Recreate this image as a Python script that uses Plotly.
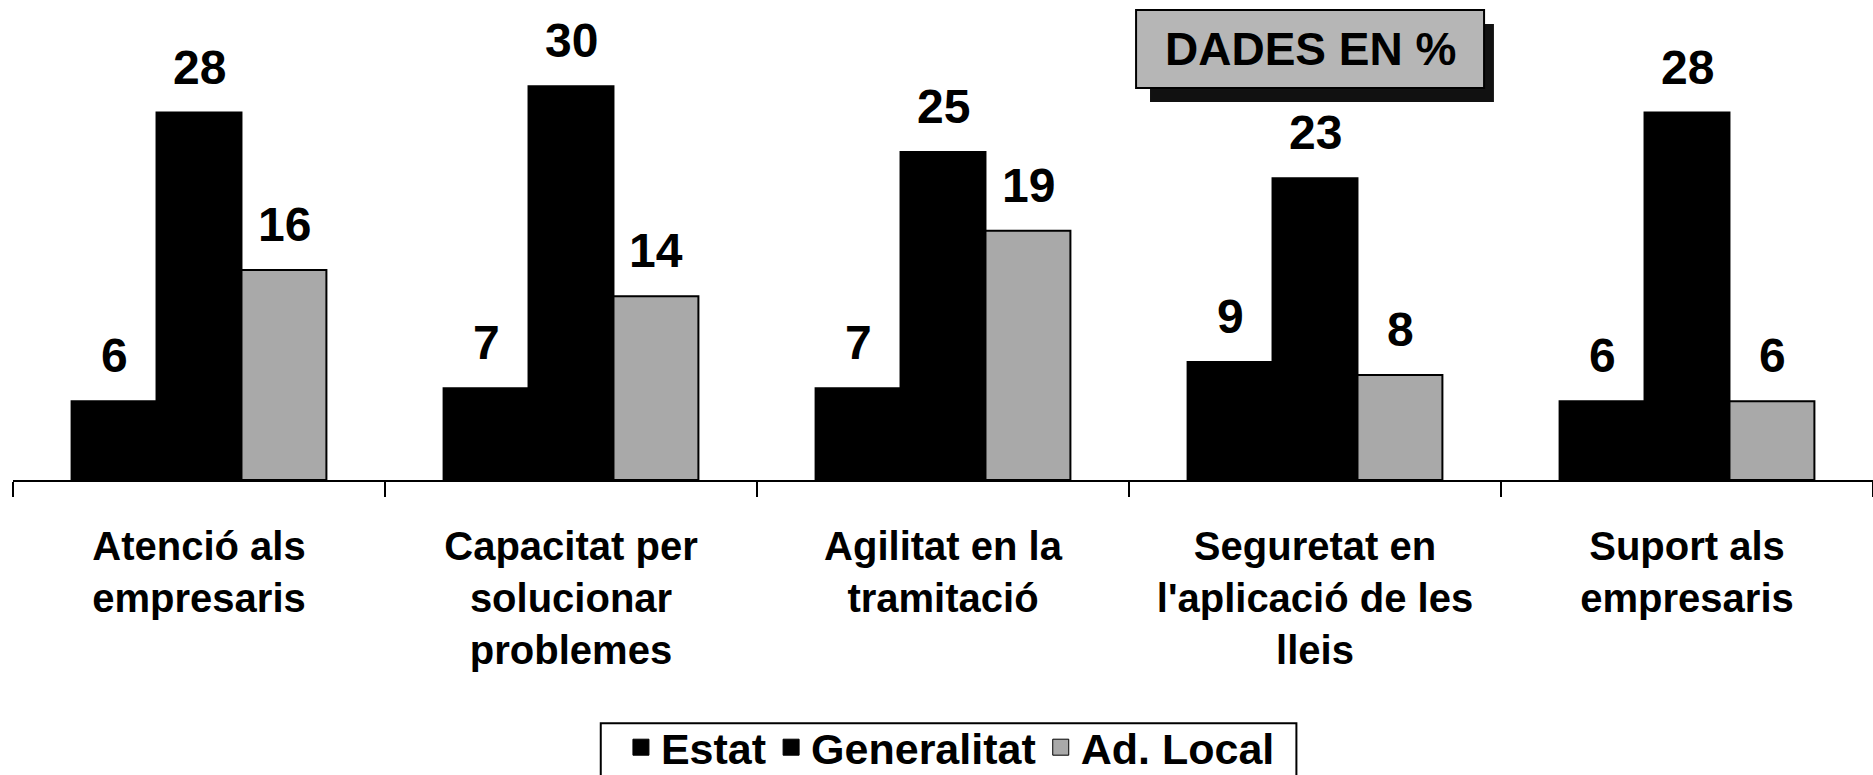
import plotly.graph_objects as go

categories = [
    "Atenció als<br>empresaris",
    "Capacitat per<br>solucionar<br>problemes",
    "Agilitat en la<br>tramitació",
    "Seguretat en<br>l'aplicació de les<br>lleis",
    "Suport als<br>empresaris",
]
series_names = ["Estat", "Generalitat", "Ad. Local"]
estat = [6, 7, 7, 9, 6]
generalitat = [28, 30, 25, 23, 28]
ad_local = [16, 14, 19, 8, 6]

colors = ["#000000", "#000000", "#a9a9a9"]
FONT = "Liberation Sans, Arial, sans-serif"

fig = go.Figure()

all_values = [estat, generalitat, ad_local]
for name, vals, col in zip(series_names, all_values, colors):
    fig.add_trace(go.Bar(
        x=categories, y=vals, name=name, showlegend=False,
        marker=dict(color=col, line=dict(color="black", width=2)),
    ))
    # legend entry with a bigger square swatch
    fig.add_trace(go.Scatter(
        x=[None], y=[None], name=name, mode="markers",
        marker=dict(symbol="square", size=20, color=col, line=dict(color="black", width=1)),
    ))

# value labels above each bar
bar_px = 85
for j, vals in enumerate(all_values):
    for cat, v in zip(categories, vals):
        fig.add_annotation(
            x=cat, y=v, text=str(v), showarrow=False,
            xref="x", yref="y", yanchor="bottom",
            xshift=(j - 1) * bar_px, yshift=17,
            font=dict(family=FONT, size=48, color="black", weight="bold"),
        )

# "DADES EN %" box with drop shadow
bx0, bx1, by0, by1 = 0.6038, 0.7909, 0.8253, 0.9895
fig.add_shape(type="rect", xref="paper", yref="paper",
              x0=0.6113, x1=0.7962, y0=0.7958, y1=0.96,
              fillcolor="#111111", line=dict(width=0), layer="above")
fig.add_shape(type="rect", xref="paper", yref="paper",
              x0=bx0, x1=bx1, y0=by0, y1=by1,
              fillcolor="#b6b6b6", line=dict(color="black", width=2), layer="above")
fig.add_annotation(
    xref="paper", yref="paper", x=(bx0 + bx1) / 2, y=(by0 + by1) / 2,
    xanchor="center", yanchor="middle",
    text="DADES EN %", showarrow=False,
    font=dict(family=FONT, size=46, color="black", weight="bold"),
)

# legend frame (runs off the bottom edge like the original)
fig.add_shape(type="rect", xref="paper", yref="paper",
              x0=0.316, x1=0.690, y0=-0.70, y1=-0.512,
              fillcolor="rgba(0,0,0,0)", line=dict(color="black", width=2))

fig.update_layout(
    width=1873, height=775,
    margin=dict(l=13, r=0, t=5, b=295, autoexpand=False),
    plot_bgcolor="white", paper_bgcolor="white",
    barmode="group", bargap=0.315, bargroupgap=0,
    font=dict(family=FONT, color="black"),
    legend=dict(
        orientation="h", x=0.504, xanchor="center", y=-0.49, yanchor="top",
        borderwidth=0, bgcolor="rgba(0,0,0,0)",
        font=dict(family=FONT, size=43, color="black", weight="bold"),
        itemclick=False, itemdoubleclick=False, itemwidth=30,
    ),
)
fig.update_xaxes(
    showline=True, linecolor="black", linewidth=2,
    ticks="outside", tickson="boundaries", ticklen=15, tickwidth=2, tickcolor="black",
    tickfont=dict(family=FONT, size=40, color="black", weight="bold"),
    ticklabelstandoff=30,
    showgrid=False, zeroline=False,
)
fig.update_yaxes(range=[0, 36.2], visible=False, showgrid=False, zeroline=False)

fig.write_html(
    "out.html",
    config={"displayModeBar": False},
    post_script="document.body.style.margin='0';document.body.style.overflow='hidden';",
)
